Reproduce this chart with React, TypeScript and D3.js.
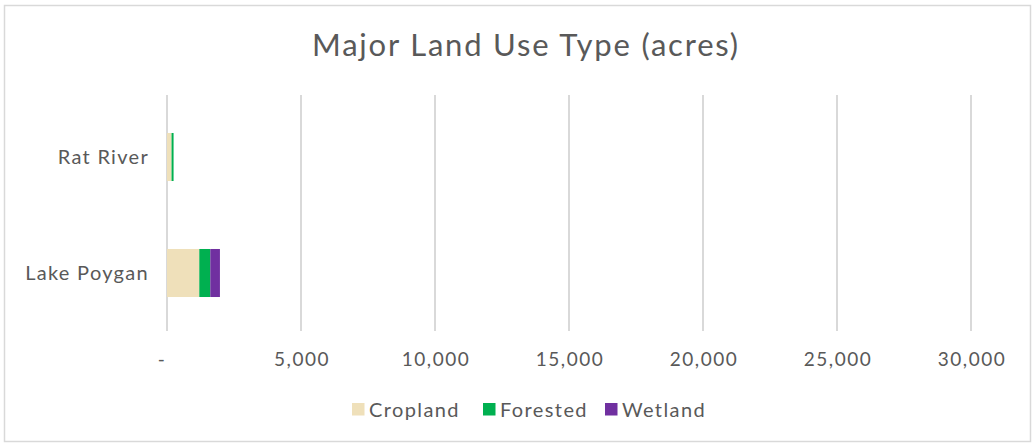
import React from "react";
import * as d3 from "d3";

const categories = ["Rat River", "Lake Poygan"];
const seriesNames = ["Cropland", "Forested", "Wetland"];
const cropland = [170, 1205];
const forested = [75, 410];
const wetland = [0, 360];
const xTicks = [0, 5000, 10000, 15000, 20000, 25000, 30000];
const colors = ["#EFE0BA", "#00B050", "#7030A0"];

const W = 1035;
const H = 447;
const FONT = "'Lato', 'DejaVu Sans', sans-serif";
const TEXT = "#595959";

export default function App() {
  const x = d3.scaleLinear().domain([0, 30000]).range([167, 971]);
  const y = d3
    .scaleBand<string>()
    .domain(categories)
    .range([99, 331])
    .paddingInner(0.586)
    .paddingOuter(0.293);

  const rows = categories.map((c, i) => ({
    cat: c,
    Cropland: cropland[i],
    Forested: forested[i],
    Wetland: wetland[i],
  }));
  const stack = d3.stack<any>().keys(seriesNames)(rows);
  const fmt = (v: number) => (v === 0 ? "-" : d3.format(",")(v));

  const legendX = [352, 483, 605];

  return (
    <svg
      width={W}
      height={H}
      style={{ position: "absolute", left: 0, top: 0, background: "#fff" }}
    >
      <rect x={4.5} y={5.5} width={1026} height={436} fill="#fff" stroke="#d9d9d9" strokeWidth={1.5} />
      <text
        x={526}
        y={56}
        textAnchor="middle"
        fontFamily={FONT}
        fontSize={31}
        letterSpacing={1.8}
        fill={TEXT}
      >
        Major Land Use Type (acres)
      </text>
      {xTicks.map((t) => (
        <line
          key={t}
          x1={x(t)}
          x2={x(t)}
          y1={95}
          y2={331}
          stroke="#d9d9d9"
          strokeWidth={2}
        />
      ))}
      {stack.map((s, si) =>
        s.map((d, i) => (
          <rect
            key={si + "-" + i}
            x={x(d[0])}
            y={y(categories[i])}
            width={Math.max(0, x(d[1]) - x(d[0]))}
            height={y.bandwidth()}
            fill={colors[si]}
          />
        ))
      )}
      {xTicks.map((t) => (
        <text
          key={"l" + t}
          x={x(t) + (t === 0 ? -5 : 1)}
          y={366}
          textAnchor="middle"
          fontFamily={FONT}
          fontSize={19}
          letterSpacing={1.5}
          fill={TEXT}
        >
          {fmt(t)}
        </text>
      ))}
      {categories.map((c) => (
        <text
          key={c}
          x={149}
          y={(y(c) as number) + y.bandwidth() / 2 + 7}
          textAnchor="end"
          fontFamily={FONT}
          fontSize={20}
          letterSpacing={1.3}
          fill={TEXT}
        >
          {c}
        </text>
      ))}
      {seriesNames.map((n, i) => (
        <g key={n}>
          <rect x={legendX[i]} y={403} width={12.5} height={12.5} fill={colors[i]} />
          <text
            x={legendX[i] + 17}
            y={416.5}
            fontFamily={FONT}
            fontSize={20}
            letterSpacing={1.4}
            fill={TEXT}
          >
            {n}
          </text>
        </g>
      ))}
    </svg>
  );
}
